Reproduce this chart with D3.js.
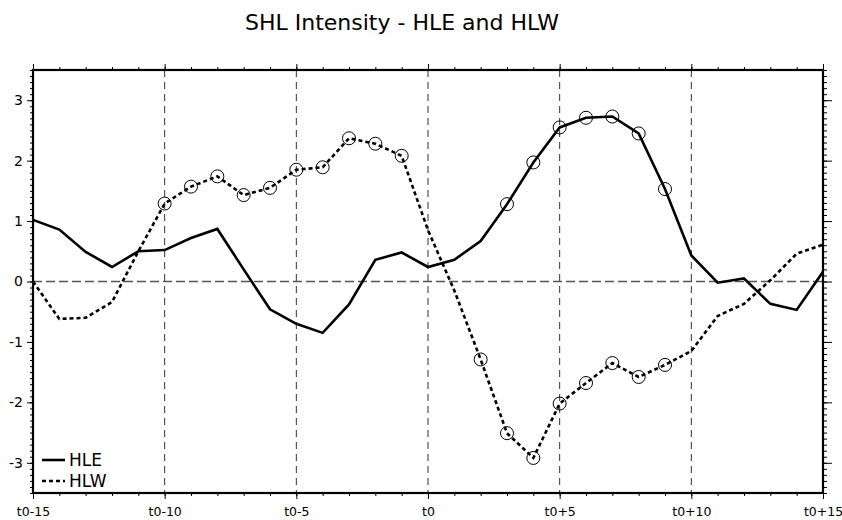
<!DOCTYPE html>
<html>
<head>
<meta charset="utf-8">
<script src="https://cdn.jsdelivr.net/npm/d3@7"></script>
<style>
  html, body { margin: 0; padding: 0; background: #fff; }
  svg { display: block; }
  text { font-family: "DejaVu Sans", "Liberation Sans", sans-serif; fill: #000; }
</style>
</head>
<body>
<svg id="chart" width="842" height="520"></svg>
<script>
// ---- data ----
const steps = d3.range(-15, 16);
const hle = [1.02, 0.86, 0.49, 0.24, 0.50, 0.52, 0.72, 0.87, 0.20, -0.46, -0.70, -0.85, -0.38, 0.36, 0.48, 0.24,
             0.36, 0.67, 1.28, 1.97, 2.55, 2.71, 2.73, 2.45, 1.53, 0.43, -0.02, 0.05, -0.37, -0.47, 0.16];
const hlw = [0.0, -0.62, -0.60, -0.34, 0.50, 1.29, 1.57, 1.74, 1.43, 1.55, 1.85, 1.89, 2.37, 2.28, 2.08, 0.85,
             -0.15, -1.29, -2.51, -2.92, -2.02, -1.68, -1.35, -1.58, -1.38, -1.15, -0.57, -0.37, 0.02, 0.46, 0.61];
const hleMarked = [3, 4, 5, 6, 7, 8, 9];
const hlwMarked = [-10, -9, -8, -7, -6, -5, -4, -3, -2, -1, 2, 3, 4, 5, 6, 7, 8, 9];
const xTickVals = [-15, -10, -5, 0, 5, 10, 15];
const xTickLabels = ["t0-15", "t0-10", "t0-5", "t0", "t0+5", "t0+10", "t0+15"];
const yTickVals = [-3, -2, -1, 0, 1, 2, 3];
const yTickLabels = ["-3", "-2", "-1", "0", "1", "2", "3"];
const title = "SHL Intensity - HLE and HLW";
const seriesNames = ["HLE", "HLW"];

// ---- layout ----
const svg = d3.select("#chart");
const L = 33, R = 823, T = 70, B = 493;
const x = d3.scaleLinear().domain([-15, 15]).range([L, R]);
const y = d3.scaleLinear().domain([-3.5, 3.5]).range([B, T]);

// grid
const grid = svg.append("g");
grid.selectAll("line.v").data([-10, -5, 0, 5, 10]).join("line")
  .attr("x1", d => x(d)).attr("x2", d => x(d)).attr("y1", T).attr("y2", B)
  .attr("stroke", "#333").attr("stroke-width", 1).attr("stroke-dasharray", "7,5");
grid.append("line")
  .attr("x1", L).attr("x2", R).attr("y1", y(0)).attr("y2", y(0))
  .attr("stroke", "#555").attr("stroke-width", 1.3).attr("stroke-dasharray", "9,4");

// lines
const line = d3.line().x((d, i) => x(steps[i])).y(d => y(d));
svg.append("path").datum(hle).attr("d", line)
  .attr("fill", "none").attr("stroke", "#000").attr("stroke-width", 2.6).attr("stroke-linejoin", "miter");
svg.append("path").datum(hlw).attr("d", line)
  .attr("fill", "none").attr("stroke", "#000").attr("stroke-width", 2.6).attr("stroke-dasharray", "4,3");

// markers
const val = (arr, t) => arr[steps.indexOf(t)];
svg.append("g").selectAll("circle").data(hleMarked).join("circle")
  .attr("cx", d => x(d)).attr("cy", d => y(val(hle, d))).attr("r", 6.5)
  .attr("fill", "none").attr("stroke", "#000").attr("stroke-width", 1);
svg.append("g").selectAll("circle").data(hlwMarked).join("circle")
  .attr("cx", d => x(d)).attr("cy", d => y(val(hlw, d))).attr("r", 6.5)
  .attr("fill", "none").attr("stroke", "#000").attr("stroke-width", 1);

// axes
const minorX = d3.range(-15, 16);
const minorY = d3.range(-35, 36).map(d => d / 10);

svg.append("g").attr("transform", `translate(0,${B})`)
  .call(d3.axisBottom(x).tickValues(minorX).tickSize(3).tickFormat(""));
const bottomMajor = svg.append("g").attr("transform", `translate(0,${B})`)
  .call(d3.axisBottom(x).tickValues(xTickVals).tickSize(6).tickPadding(8)
        .tickFormat((d, i) => xTickLabels[i]));
svg.append("g").attr("transform", `translate(0,${T})`)
  .call(d3.axisTop(x).tickValues(minorX).tickSize(3).tickFormat(""));
svg.append("g").attr("transform", `translate(0,${T})`)
  .call(d3.axisTop(x).tickValues(xTickVals).tickSize(6).tickFormat(""));
svg.append("g").attr("transform", `translate(${L},0)`)
  .call(d3.axisLeft(y).tickValues(minorY).tickSize(3).tickFormat(""));
const leftMajor = svg.append("g").attr("transform", `translate(${L},0)`)
  .call(d3.axisLeft(y).tickValues(yTickVals).tickSize(6).tickPadding(4)
        .tickFormat((d, i) => yTickLabels[i]));
svg.append("g").attr("transform", `translate(${R},0)`)
  .call(d3.axisRight(y).tickValues(minorY).tickSize(4).tickFormat(""));
svg.append("g").attr("transform", `translate(${R},0)`)
  .call(d3.axisRight(y).tickValues(yTickVals).tickSize(9).tickFormat(""));

svg.selectAll(".domain").remove();
svg.selectAll(".tick line").attr("stroke", "#000").attr("stroke-width", 1);
svg.selectAll(".tick text").attr("font-family", "DejaVu Sans, sans-serif").attr("fill", "#000");
bottomMajor.selectAll(".tick text").attr("font-size", 12.5);
leftMajor.selectAll(".tick text").attr("font-size", 14);

// frame
svg.append("rect").attr("x", L).attr("y", T).attr("width", R - L).attr("height", B - T)
  .attr("fill", "none").attr("stroke", "#000").attr("stroke-width", 2.2);

// title
svg.append("text").attr("x", 402).attr("y", 30).attr("text-anchor", "middle")
  .attr("font-size", 22).text(title);

// legend
const lg = svg.append("g");
[0, 1].forEach(i => {
  const ly = 460 + i * 21;
  lg.append("line").attr("x1", 42).attr("x2", 65).attr("y1", ly).attr("y2", ly)
    .attr("stroke", "#000").attr("stroke-width", 2.6)
    .attr("stroke-dasharray", i === 1 ? "4,3" : null);
  lg.append("text").attr("x", 69).attr("y", ly + 6).attr("font-size", 17).text(seriesNames[i]);
});
</script>
</body>
</html>
